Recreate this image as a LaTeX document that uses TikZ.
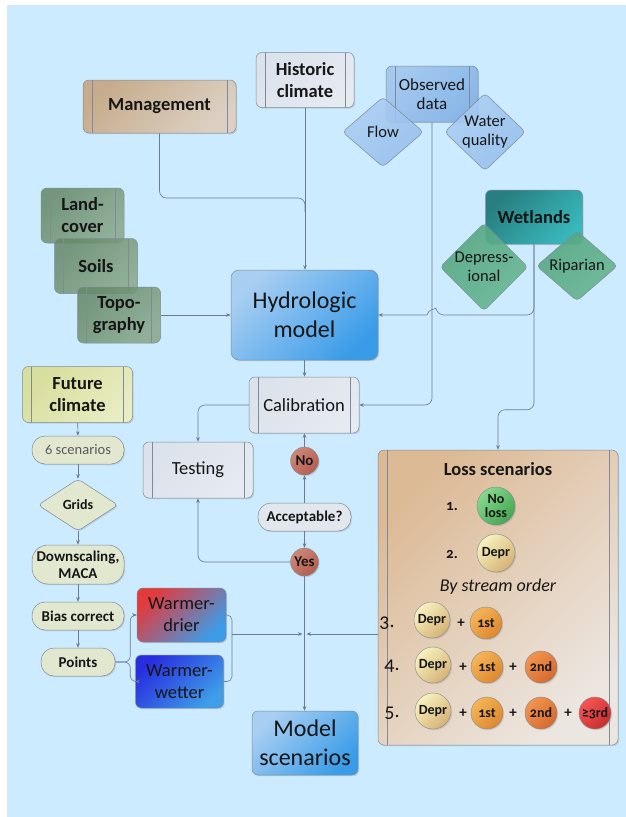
\documentclass[tikz,border=0pt]{standalone}
\usepackage{fontspec}
\setmainfont{Carlito}[Numbers=OldStyle]
\usepackage{tikz}
\usetikzlibrary{shapes, arrows.meta, positioning, shadows, calc}

\definecolor{bgblue}{RGB}{204,235,254}
\definecolor{linecol}{RGB}{108,122,146}
\definecolor{rimcol}{RGB}{128,138,152}
\definecolor{txt}{RGB}{22,22,22}
\definecolor{tanA}{RGB}{198,172,140}
\definecolor{tanB}{RGB}{220,208,194}
\definecolor{grayA}{RGB}{220,226,235}
\definecolor{grayB}{RGB}{230,234,241}
\definecolor{obsA}{RGB}{164,201,238}
\definecolor{obsB}{RGB}{136,182,232}
\definecolor{diaA}{RGB}{172,205,242}
\definecolor{diaB}{RGB}{148,190,236}
\definecolor{tealA}{RGB}{40,126,128}
\definecolor{tealB}{RGB}{56,184,188}
\definecolor{grnA}{RGB}{84,166,128}
\definecolor{grnB}{RGB}{104,182,146}
\definecolor{lcA}{RGB}{100,136,102}
\definecolor{lcB}{RGB}{136,166,136}
\definecolor{hydA}{RGB}{168,206,242}
\definecolor{hydB}{RGB}{58,156,232}
\definecolor{futA}{RGB}{216,222,156}
\definecolor{futB}{RGB}{232,236,194}
\definecolor{pillc}{RGB}{226,232,208}
\definecolor{accc}{RGB}{226,231,238}
\definecolor{noA}{RGB}{208,134,118}
\definecolor{noB}{RGB}{178,94,80}
\definecolor{dryA}{RGB}{228,58,58}
\definecolor{dryM}{RGB}{196,74,100}
\definecolor{dryB}{RGB}{60,156,232}
\definecolor{wetA}{RGB}{40,46,224}
\definecolor{wetB}{RGB}{62,158,232}
\definecolor{lossA}{RGB}{220,186,150}
\definecolor{lossB}{RGB}{236,230,224}
\definecolor{nlA}{RGB}{134,216,142}
\definecolor{nlB}{RGB}{68,166,82}
\definecolor{dpA}{RGB}{247,242,190}
\definecolor{dpB}{RGB}{214,178,118}
\definecolor{sAa}{RGB}{245,180,86}
\definecolor{sAb}{RGB}{222,136,48}
\definecolor{sBa}{RGB}{241,148,78}
\definecolor{sBb}{RGB}{214,106,46}
\definecolor{sCa}{RGB}{244,84,84}
\definecolor{sCb}{RGB}{200,46,46}

\begin{document}
\begin{tikzpicture}[x=1pt, y=-1pt,
        every node/.style={align=center, inner sep=1pt, text=txt},
        fbig/.style={font=\fontsize{24}{29}\selectfont},
        fbold/.style={font=\bfseries\fontsize{18.5}{22}\selectfont},
        freg/.style={font=\fontsize{18.5}{22}\selectfont},
        fmid/.style={font=\fontsize{16.5}{18.5}\selectfont},
        fsml/.style={font=\bfseries\fontsize{15}{17}\selectfont},
        shad/.style={drop shadow={opacity=0.25, shadow xshift=1.2pt, shadow yshift=-1.2pt}},
        shade/.style 2 args={top color=#1, bottom color=#2, shading angle=45},
        box/.style={rectangle, rounded corners=6pt, draw=rimcol, line width=0.5pt},
        proc/.style={box, path picture={
            \draw[rimcol, line width=0.5pt] ([xshift=9pt]path picture bounding box.north west) -- ([xshift=9pt]path picture bounding box.south west);
            \draw[rimcol, line width=0.5pt] ([xshift=-9pt]path picture bounding box.north east) -- ([xshift=-9pt]path picture bounding box.south east);}},
        pill/.style={rectangle, rounded corners=13pt, draw=rimcol, line width=0.5pt, fill=pillc, shad, fsml},
        gem/.style={diamond, rounded corners=4pt, draw=rimcol, line width=0.5pt, inner sep=0pt},
        dot/.style={circle, inner sep=0pt, draw=rimcol, line width=0.4pt, shad, font=\bfseries\fontsize{14}{14.5}\selectfont},
        conn/.style={draw=linecol, line width=0.6pt, rounded corners=7pt},
        arrow/.style={conn, -{Stealth[length=4.5pt, width=3.5pt]}}
    ]
        % Page
        \useasboundingbox (0,0) rectangle (626,817);
        \fill[white] (0,0) rectangle (626,817);
        \fill[bgblue] (7,5) rectangle (626,817);

        % Inputs
        \node[proc, shad, shade={grayA}{grayB}, fbold, minimum width=98pt, minimum height=55pt] (hist) at (305,80) {Historic\\climate};
        \node[proc, shad, shade={tanA}{tanB}, fbold, minimum width=153pt, minimum height=53pt] (mgmt) at (159.5,106.5) {Management};
        \node[proc, shad, shade={obsA}{obsB}, font=\fontsize{17}{19}\selectfont, minimum width=92pt, minimum height=56pt] (obs) at (432,94) {Observed\\data};
        \node[gem, shade={diaA}{diaB}, fill opacity=0.88, text opacity=1, fmid, minimum width=81pt, minimum height=70pt] (flow) at (383,132) {Flow};
        \node[gem, shade={diaA}{diaB}, fill opacity=0.88, text opacity=1, fmid, minimum width=81pt, minimum height=70pt] (wq) at (485,132) {Water\\quality};

        \node[box, shad, shade={tealA}{tealB}, fbold, minimum width=97pt, minimum height=54pt] (wet) at (534,217) {Wetlands};
        \node[gem, shade={grnA}{grnB}, fill opacity=0.9, text opacity=1, fmid, minimum width=81pt, minimum height=70pt] (depr) at (484,267) {Depress-\\ional};
        \node[gem, shade={grnA}{grnB}, fill opacity=0.9, text opacity=1, fmid, minimum width=81pt, minimum height=70pt] (rip) at (577,266) {Riparian};

        \node[proc, shade={lcA}{lcB}, fill opacity=0.85, text opacity=1, fbold, minimum width=83pt, minimum height=55pt] (land) at (82.5,215.5) {Land-\\cover};
        \node[proc, shade={lcA}{lcB}, fill opacity=0.85, text opacity=1, fbold, minimum width=83pt, minimum height=55pt] (soils) at (96,266) {Soils};
        \node[proc, shade={lcA}{lcB}, fill opacity=0.85, text opacity=1, fbold, minimum width=83pt, minimum height=56pt] (topo) at (119,315) {Topo-\\graphy};

        % Model and calibration
        \node[box, rounded corners=8pt, shad, shade={hydA}{hydB}, fbig, minimum width=147pt, minimum height=90pt] (hydro) at (304.5,315) {Hydrologic\\model};
        \node[proc, shad, shade={grayA}{grayB}, freg, minimum width=110pt, minimum height=56pt] (calib) at (304,405) {Calibration};
        \node[proc, shad, shade={grayA}{grayB}, freg, minimum width=110pt, minimum height=56pt] (test) at (198,470) {Testing};
        \node[dot, shade={noA}{noB}, minimum size=28pt, font=\bfseries\fontsize{15}{15}\selectfont] (no) at (304.5,461) {No};
        \node[pill, fill=accc, minimum width=93pt, minimum height=28pt] (acc) at (304.5,517) {Acceptable?};
        \node[dot, shade={noA}{noB}, minimum size=28pt, font=\bfseries\fontsize{15}{15}\selectfont] (yes) at (304.5,562) {Yes};

        % Future climate chain
        \node[proc, shad, shade={futA}{futB}, fbold, minimum width=110pt, minimum height=56pt] (fut) at (77.5,394.5) {Future\\climate};
        \node[pill, minimum width=92pt, minimum height=28pt, font=\fontsize{14.5}{16}\selectfont, text=black!65] (scen) at (78,450) {6 scenarios};
        \node[gem, fill=pillc, shad, minimum width=80pt, minimum height=52pt, font=\bfseries\fontsize{14}{16}\selectfont] (grids) at (78,505) {Grids};
        \node[pill, rounded corners=16pt, minimum width=92pt, minimum height=39pt] (down) at (78,564.5) {Downscaling,\\MACA};
        \node[pill, minimum width=92pt, minimum height=28pt] (bias) at (78,616) {Bias correct};
        \node[pill, minimum width=74pt, minimum height=28pt] (points) at (78,662) {Points};
        \node[box, shad, top color=dryA, middle color=dryM, bottom color=dryB, shading angle=45, freg, minimum width=89pt, minimum height=54pt] (drier) at (181.5,615) {Warmer-\\drier};
        \node[box, shad, shade={wetA}{wetB}, freg, minimum width=88pt, minimum height=53pt] (wetter) at (179.5,681.5) {Warmer-\\wetter};

        \node[box, shad, shade={hydA}{hydB}, fbig, minimum width=106pt, minimum height=64pt] (model) at (305,743) {Model\\scenarios};

        % Loss scenarios panel
        \node[proc, shad, shade={lossA}{lossB}, minimum width=240pt, minimum height=295pt] (loss) at (498,597.5) {};
        \node[fbold] (ltitle) at (498,469) {Loss scenarios};
        \node[fsml] (n1) at (452,507) {1.};
        \node[dot, shade={nlA}{nlB}, minimum size=38pt] (c1) at (496,506) {No\\loss};
        \node[fsml] (n2) at (452,554) {2.};
        \node[dot, shade={dpA}{dpB}, minimum size=38pt] (c2) at (496,553) {Depr};
        \node[font=\itshape\fontsize{18}{20}\selectfont] (order) at (498,587) {By stream order};

        \node[font=\fontsize{20}{20}\selectfont] (n3) at (387,623) {3.};
        \node[dot, shade={dpA}{dpB}, minimum size=36pt] (r3a) at (432,620) {Depr};
        \node[fsml] (p3a) at (461,623) {+};
        \node[dot, shade={sAa}{sAb}, minimum size=32pt] (r3b) at (486,623) {1st};

        \node[font=\fontsize{20}{20}\selectfont] (n4) at (392,666) {4.};
        \node[dot, shade={dpA}{dpB}, minimum size=36pt] (r4a) at (433,665) {Depr};
        \node[fsml] (p4a) at (463,667) {+};
        \node[dot, shade={sAa}{sAb}, minimum size=32pt] (r4b) at (487,667) {1st};
        \node[fsml] (p4b) at (513,667) {+};
        \node[dot, shade={sBa}{sBb}, minimum size=32pt] (r4c) at (541,667) {2nd};

        \node[font=\fontsize{20}{20}\selectfont] (n5) at (392,713) {5.};
        \node[dot, shade={dpA}{dpB}, minimum size=36pt] (r5a) at (433,711) {Depr};
        \node[fsml] (p5a) at (463,713) {+};
        \node[dot, shade={sAa}{sAb}, minimum size=32pt] (r5b) at (487,713) {1st};
        \node[fsml] (p5b) at (513,713) {+};
        \node[dot, shade={sBa}{sBb}, minimum size=32pt] (r5c) at (541,713) {2nd};
        \node[fsml] (p5c) at (568,713) {+};
        \node[dot, shade={sCa}{sCb}, minimum size=32pt] (r5d) at (595,713) {≥3rd};

        % Arrows into the model
        \coordinate (jm) at (hist.south |- 0,198);
        \draw[conn] (mgmt.south) |- (jm) -- ++(0,14);
        \draw[arrow] (hist.south) -- (hist.south |- hydro.north);
        \draw[arrow] (topo) -- (hydro);
        \draw[arrow] (wet.south) |- (437,315) [sharp corners] .. controls (436,309) and (428,309) .. (427,315) -- (hydro.east);
        \draw[arrow] (obs.south) |- (calib.east);
        \draw[arrow] (wet.south) |- ($(loss.north)+(0,-40)$) -- (loss.north);

        % Calibration loop
        \draw[arrow] (hydro.south) -- (hydro.south |- calib.north);
        \draw[arrow] (calib.west) -| (test.north);
        \draw[arrow] (acc) -- (no);
        \draw[arrow] (no) -- (no |- calib.south);
        \draw[arrow] (acc) -- (yes);
        \draw[arrow] (yes.west) -| (test.south);
        \draw[arrow] (yes) -- (yes |- model.north);

        % Future climate chain
        \draw[arrow] (fut) -- (scen);
        \draw[arrow] (scen) -- (grids);
        \draw[arrow] (grids) -- (down);
        \draw[arrow] (down) -- (bias);
        \draw[arrow] (bias) -- (points);
        \coordinate (bl) at ($(points.east)+(15,0)$);
        \draw[arrow, rounded corners=6pt] (points.east) -- (bl) |- (drier.west);
        \draw[arrow, rounded corners=6pt] (points.east) -- (bl) |- (wetter.west);

        % Scenarios joining
        \coordinate (br) at (232,634);
        \coordinate (jx) at (yes |- br);
        \draw[conn, rounded corners=5pt] (drier.east) -| (br);
        \draw[conn, rounded corners=5pt] (wetter.east) -| (br);
        \draw[arrow] (br) -- ([xshift=-2pt]jx);
        \draw[arrow] (loss.west |- jx) -- ([xshift=2pt]jx);

    \end{tikzpicture}
\end{document}
